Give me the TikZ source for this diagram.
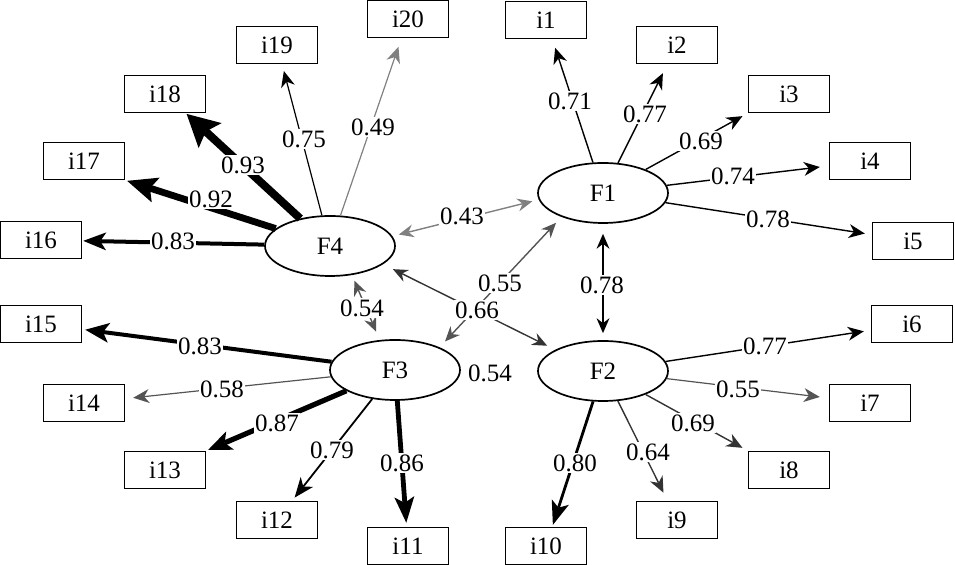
\documentclass[tikz,border=0pt]{standalone}
\usepackage{fontspec}
\setmainfont{Liberation Serif}
\usetikzlibrary{arrows.meta,shapes.geometric}
\definecolor{gA}{gray}{0.5}
\definecolor{gB}{gray}{0.33}
\definecolor{gC}{gray}{0.2}
\tikzset{
  ell/.style={ellipse, draw, line width=0.85pt, fill=white, minimum width=65pt, minimum height=30pt, inner sep=0pt, font=\fontsize{12.5}{14}\selectfont},
  box/.style={rectangle, draw, line width=0.75pt, minimum width=40.5pt, minimum height=18.5pt, inner sep=0pt, font=\fontsize{12.5}{14}\selectfont},
  lab/.style={fill=white, inner sep=0.6pt, font=\fontsize{12.5}{14}\selectfont},
  thin/.style={line width=0.7pt, -{Stealth[length=8pt,width=7pt,inset=2.5pt,line width=0pt]}},
  fat/.style n args={3}{line width=#1, -{Stealth[length=#2,width=#3,inset=3pt,line width=0pt]}},
  dbl/.style={line width=0.7pt, {Stealth[length=7.5pt,width=6.5pt,inset=2.5pt,line width=0pt]}-{Stealth[length=7.5pt,width=6.5pt,inset=2.5pt,line width=0pt]}},
}
\begin{document}
\begin{tikzpicture}[x=0.5pt,y=-0.5pt]
\useasboundingbox (0,0) rectangle (955,565);
% factors
\node[ell] (F1) at (603,193) {F1};
\node[ell] (F2) at (603,371) {F2};
\node[ell] (F3) at (395,370) {F3};
\node[ell] (F4) at (330,246) {F4};
% indicators
\node[box] (i1) at (546,20) {i1};
\node[box] (i2) at (677,45) {i2};
\node[box] (i3) at (789,94) {i3};
\node[box] (i4) at (870,161) {i4};
\node[box] (i5) at (913,241) {i5};
\node[box] (i6) at (912,324) {i6};
\node[box] (i7) at (870,403) {i7};
\node[box] (i8) at (789,470) {i8};
\node[box] (i9) at (677,520) {i9};
\node[box] (i10) at (546,546) {i10};
\node[box] (i11) at (408,546) {i11};
\node[box] (i12) at (277,520) {i12};
\node[box] (i13) at (165,470) {i13};
\node[box] (i14) at (84,403) {i14};
\node[box] (i15) at (41,324) {i15};
\node[box] (i16) at (41,240) {i16};
\node[box] (i17) at (84,161) {i17};
\node[box] (i18) at (165,94) {i18};
\node[box] (i19) at (277,45) {i19};
\node[box] (i20) at (408,19) {i20};
% F1 loadings
\draw[thin, shorten >=4.5pt] (F1) -- (i1);
\draw[thin, shorten >=5pt] (F1) -- (i2);
\draw[thin, shorten >=3pt] (F1) -- (i3.south west);
\draw[thin, shorten >=4.5pt] (F1) -- (i4);
\draw[thin, shorten >=3.5pt] (F1) -- (i5);
% F2 loadings
\draw[thin, shorten >=3.5pt] (F2) -- (i6);
\draw[thin, gB, line width=0.6pt, shorten >=4.5pt] (F2) -- (i7);
\draw[thin, gC, shorten >=3pt] (F2) -- (i8.north west);
\draw[thin, gC, shorten >=4.5pt] (F2) -- (i9);
\draw[fat={1.4pt}{12pt}{9pt}, shorten >=1pt] (F2) -- (i10);
% F3 loadings
\draw[fat={2.4pt}{13pt}{10pt}, shorten >=2pt] (F3) -- (i11);
\draw[fat={0.9pt}{10pt}{8pt}, shorten >=2pt] (F3) -- (i12);
\draw[fat={2.6pt}{12pt}{10pt}, shorten >=1pt] (F3) -- (i13.north east);
\draw[thin, gB, line width=0.6pt, shorten >=4pt] (F3) -- (i14);
\draw[fat={2pt}{12pt}{10pt}, shorten >=1.5pt] (F3) -- (i15);
% F4 loadings
\draw[fat={2pt}{11.5pt}{9pt}, shorten >=0.5pt] (F4) -- (i16);
\draw[fat={3.4pt}{15pt}{13pt}, shorten >=1pt] (F4) -- (i17.south east);
\draw[fat={4pt}{16pt}{17pt}, shorten >=0.5pt] (F4) -- (i18);
\draw[thin, line width=0.6pt, shorten >=3.5pt] (F4) -- (i19);
\draw[thin, gA, line width=0.6pt, shorten >=4.5pt] (F4) -- (i20);
% correlations
\draw[dbl, gA, shorten <=3.3pt, shorten >=3.3pt] (F4.9) -- (F1.186);
\draw[dbl, shorten <=5pt, shorten >=3.5pt] (F1) -- (F2);
\draw[dbl, gB, shorten <=4pt, shorten >=4pt] (F3.27) -- (F1.210);
\draw[dbl, gC, shorten <=5.5pt, shorten >=4.5pt] (F4.341) -- (F2.156);
\draw[dbl, gB, shorten <=3pt, shorten >=4.5pt] (F4.307) -- (F3.117);
% labels
\node[lab] (l1) at (570,101) {0.71};
\node[lab] (l2) at (645,114) {0.77};
\node[lab] (l3) at (701,141) {0.69};
\node[lab] (l4) at (733,176) {0.74};
\node[lab] (l5) at (768,219) {0.78};
\node[lab] (l6) at (765,346) {0.77};
\node[lab] (l7) at (738,389) {0.55};
\node[lab] (l8) at (693,423) {0.69};
\node[lab] (l9) at (648,452) {0.64};
\node[lab] (l10) at (575,463) {0.80};
\node[lab] (l11) at (402,463) {0.86};
\node[lab] (l12) at (332,450) {0.79};
\node[lab] (l13) at (277,423) {0.87};
\node[lab] (l14) at (222,389) {0.58};
\node[lab] (l15) at (200,346) {0.83};
\node[lab] (l16) at (173,241) {0.83};
\node[lab] (l17) at (211,199) {0.92};
\node[lab] (l18) at (243,165) {0.93};
\node[lab] (l19) at (304,139) {0.75};
\node[lab] (l20) at (373,127) {0.49};
\node[lab] (c41) at (462,216) {0.43};
\node[lab] (c31) at (500,283) {0.55};
\node[lab] (c42) at (477,310) {0.66};
\node[lab] (c12) at (602,285) {0.78};
\node[lab] (c43) at (362,308) {0.54};
\node[lab] (c32) at (490,373) {0.54};
\end{tikzpicture}
\end{document}
